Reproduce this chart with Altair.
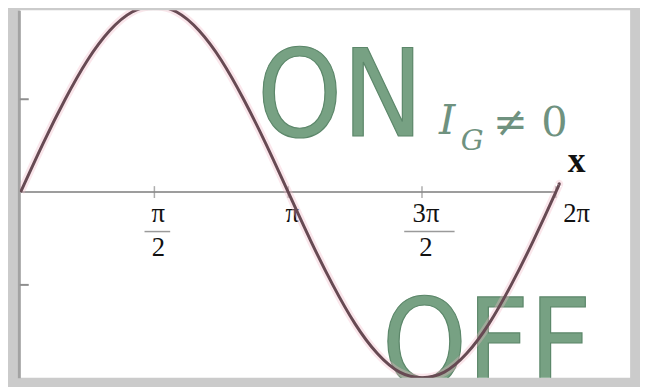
import altair as alt
import pandas as pd

# sine curve (x in degrees, y amplitude)
curve_deg = [0, 15, 30, 45, 60, 75, 90, 105, 120, 135, 150, 165, 180,
             195, 210, 225, 240, 255, 270, 285, 300, 315, 330, 345, 360, 362]
curve_val = [0.0, 0.26, 0.5, 0.71, 0.87, 0.97, 1.0, 0.97, 0.87, 0.71, 0.5, 0.26, 0.0,
             -0.26, -0.5, -0.71, -0.87, -0.97, -1.0, -0.97, -0.87, -0.71, -0.5, -0.26, 0.0, 0.04]

tick_deg = [90, 180, 270, 360]
tick_num = ["π", "π", "3π", "2π"]
tick_den = ["2", "", "2", ""]
ytick_vals = [0.5, -0.5]
axis_start = [0]
axis_end = [360]

curve_df = pd.DataFrame({"deg": curve_deg, "val": curve_val})
ticks_df = pd.DataFrame({"deg": tick_deg, "num": tick_num, "den": tick_den})
ytick_df = pd.DataFrame({"val": ytick_vals})
axis_df = pd.DataFrame({"start": axis_start, "end": axis_end})

xs = alt.Scale(domain=[-0.5, 410], nice=False, zero=False)
ys = alt.Scale(domain=[-1.0, 0.9787], nice=False, zero=False)

GREEN = "#77a183"
GREEN_EDGE = "#5c876a"
SUB = "#6f927f"
SERIF = "Liberation Serif"


def X(f):
    return alt.X(f, scale=xs, axis=None)


def Y(f):
    return alt.Y(f, scale=ys, title="")


axis_line = alt.Chart(axis_df).transform_calculate(zero="0").mark_rule(
    color="#9d9d9d", strokeWidth=2).encode(x=X("start:Q"), x2="end:Q", y=Y("zero:Q"))

yticks = alt.Chart(ytick_df).mark_rule(color="#8e8e8e", strokeWidth=2).encode(
    y=Y("val:Q"), x=alt.value(0), x2=alt.value(9))

xticks = alt.Chart(ticks_df).transform_calculate(zero="0").mark_tick(
    orient="vertical", size=12, thickness=1.5, color="#8a8a8a").encode(
    x=X("deg:Q"), y=Y("zero:Q"))


def word(txt, xd, yd, size, color, font, align="center", style="normal",
         weight="normal", clip=False, stroke=None):
    kw = dict(text=txt, fontSize=size, color=color, font=font, align=align,
              baseline="alphabetic", fontStyle=style, fontWeight=weight, clip=clip)
    if stroke:
        kw.update(stroke=stroke, strokeWidth=1.2)
    return alt.Chart(axis_df).transform_calculate(
        px=str(xd), py=str(yd)).mark_text(**kw).encode(x=X("px:Q"), y=Y("py:Q"))


NARROW = "Liberation Sans Narrow, DejaVu Sans Condensed, sans-serif"
on_txt = word("ON", 215.0, 0.303, 122, GREEN, NARROW, clip=True, stroke=GREEN_EDGE)
off_txt = word("OFF", 313.5, -1.037, 122, GREEN, NARROW, clip=True, stroke=GREEN_EDGE)
i_txt = word("I", 281.5, 0.314, 42, SUB, "DejaVu Serif", align="left", style="italic")
g_txt = word("G", 296.0, 0.226, 29, SUB, "DejaVu Serif", align="left", style="italic")
ne_txt = word("≠ 0", 368.0, 0.303, 42, SUB, "DejaVu Serif", align="right")
x_txt = word("x", 374.0, 0.106, 36, "#111111", SERIF, weight="bold")

lbl_base = alt.Chart(ticks_df).transform_calculate(zero="0")
num_lbl = lbl_base.transform_filter("datum.deg < 360").mark_text(
    dy=30, dx=4, fontSize=27, font=SERIF, color="#111111", baseline="alphabetic").encode(
    x=X("deg:Q"), y=Y("zero:Q"), text="num:N")
end_lbl = lbl_base.transform_filter("datum.deg == 360").mark_text(
    dy=30, dx=21, fontSize=27, font=SERIF, color="#111111", baseline="alphabetic").encode(
    x=X("deg:Q"), y=Y("zero:Q"), text="num:N")
den_lbl = lbl_base.transform_filter("datum.den != ''").mark_text(
    dy=65, dx=4, fontSize=27, font=SERIF, color="#111111", baseline="alphabetic").encode(
    x=X("deg:Q"), y=Y("zero:Q"), text="den:N")
bar1 = lbl_base.transform_filter("datum.deg == 90").mark_rule(
    xOffset=-10, x2Offset=16, yOffset=40, y2Offset=40, color="#9a9a9a", strokeWidth=1.5).encode(
    x=X("deg:Q"), x2="deg:Q", y=Y("zero:Q"), y2="zero:Q")
bar3 = lbl_base.transform_filter("datum.deg == 270").mark_rule(
    xOffset=-18, x2Offset=33, yOffset=40, y2Offset=40, color="#9a9a9a", strokeWidth=1.5).encode(
    x=X("deg:Q"), x2="deg:Q", y=Y("zero:Q"), y2="zero:Q")

halo = alt.Chart(curve_df).mark_line(color="#f0b8c6", strokeWidth=8, opacity=0.35,
                                     interpolate="natural", clip=True).encode(
    x=X("deg:Q"), y=Y("val:Q"))
curve = alt.Chart(curve_df).mark_line(color="#674a53", strokeWidth=3,
                                      interpolate="natural", clip=True).encode(
    x=X("deg:Q"), y=Y("val:Q"))

chart = alt.layer(
    axis_line, yticks, xticks, on_txt, off_txt, i_txt, g_txt, ne_txt, x_txt,
    num_lbl, end_lbl, den_lbl, bar1, bar3, halo, curve
).properties(
    width=618, height=372, autosize="none",
    padding={"left": 12, "top": 0, "right": 10, "bottom": 7},
    background="#cbcbcb"
).configure_view(fill="white", strokeWidth=0).configure_axisY(
    domain=True, domainColor="#a3a3a3", domainWidth=3, offset=1,
    labels=False, ticks=False, grid=False, titleOpacity=0
)

chart.save("out.html", embed_options={"renderer": "svg", "actions": False})
